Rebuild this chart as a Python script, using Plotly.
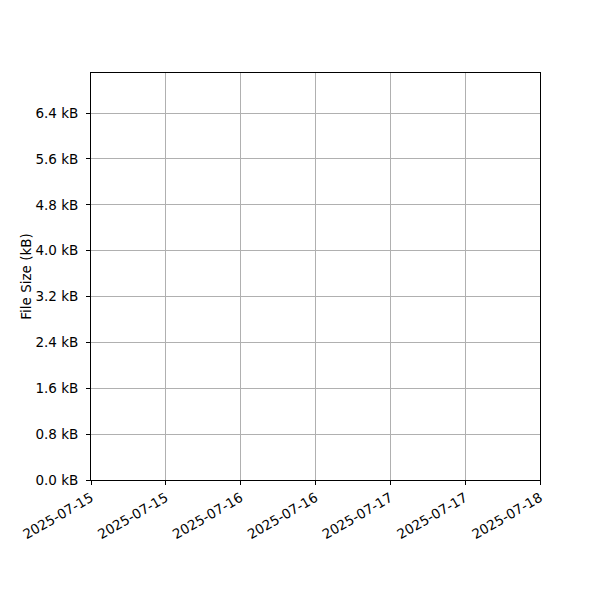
import plotly.graph_objects as go

# no points were recorded in the window shown
dates = []
sizes_kb = []

x_range = ["2025-07-15 00:00", "2025-07-18 00:00"]
x_ticks = ["2025-07-15 00:00", "2025-07-15 12:00", "2025-07-16 00:00",
           "2025-07-16 12:00", "2025-07-17 00:00", "2025-07-17 12:00",
           "2025-07-18 00:00"]
x_labels = ["2025-07-15", "2025-07-15", "2025-07-16", "2025-07-16",
            "2025-07-17", "2025-07-17", "2025-07-18"]
y_ticks = [0.0, 0.8, 1.6, 2.4, 3.2, 4.0, 4.8, 5.6, 6.4]
y_labels = [f"{v:.1f} kB" for v in y_ticks]
y_max = 7.1

fig = go.Figure()
fig.add_trace(go.Scatter(x=dates, y=sizes_kb, mode="lines+markers",
                         line=dict(color="#1f77b4"), showlegend=False))

# the page body adds an 8px offset, margins are trimmed to make up for it
fig.update_layout(
    width=600, height=600,
    margin=dict(l=83, r=68, t=65, b=128),
    plot_bgcolor="white",
    paper_bgcolor="white",
    font=dict(family="DejaVu Sans", size=13.5, color="black"),
)
fig.update_xaxes(
    type="date", range=x_range,
    tickvals=x_ticks, ticktext=x_labels, tickangle=-30,
    showgrid=True, gridcolor="#b0b0b0", gridwidth=1,
    showline=True, linecolor="black", linewidth=1, mirror=True,
    ticks="outside", ticklen=4, tickcolor="black",
    ticklabelstandoff=0,
    zeroline=False, automargin=False,
)
fig.update_yaxes(
    range=[0, y_max],
    tickvals=y_ticks, ticktext=y_labels,
    title=dict(text="File Size (kB)", font=dict(size=13.5), standoff=0),
    showgrid=True, gridcolor="#b0b0b0", gridwidth=1,
    showline=True, linecolor="black", linewidth=1, mirror=True,
    ticks="outside", ticklen=4, tickcolor="black",
    ticklabelstandoff=5,
    zeroline=False, automargin=False,
)

fig.write_html("out.html")
